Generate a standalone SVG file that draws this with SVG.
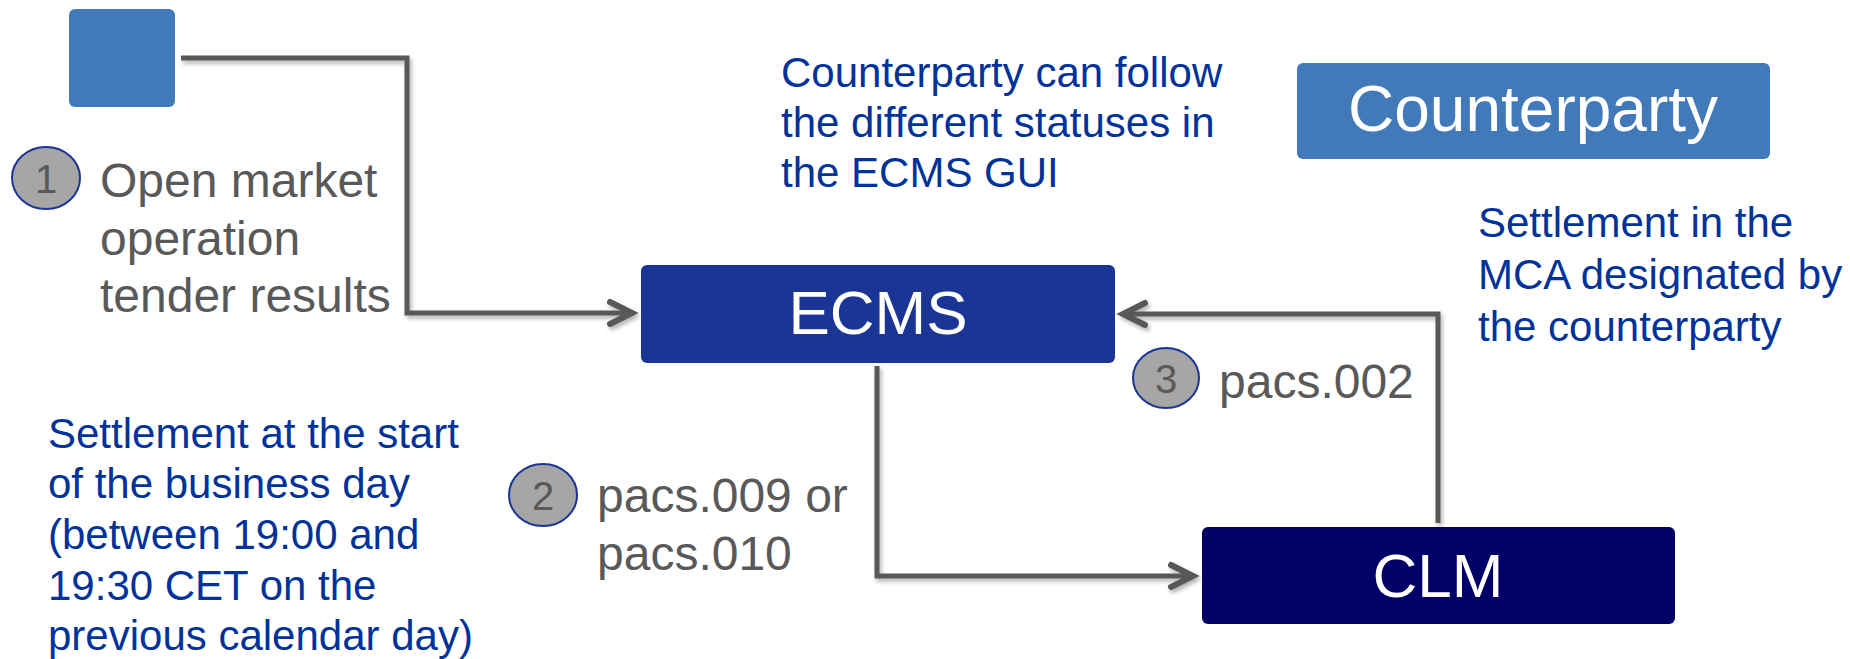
<svg xmlns="http://www.w3.org/2000/svg" width="1850" height="659" viewBox="0 0 1850 659">
<defs>
<style>
.t{font-family:"Liberation Sans",Arial,sans-serif}
.grey{fill:#595959;font-size:48px}
.blue{fill:#003399;font-size:42px}
.box{fill:#ffffff;font-size:64px;text-anchor:middle}
.num{fill:#595959;font-size:40px;text-anchor:middle}
.badge{fill:#a6a6a6;stroke:#1a3596;stroke-width:2}
.conn{fill:none;stroke:#595959;stroke-width:5;stroke-linejoin:miter}
</style>
<marker id="arr" markerUnits="userSpaceOnUse" viewBox="-30 -16 40 32" markerWidth="40" markerHeight="32" refX="0" refY="0" orient="auto">
<path d="M-22,-11 L0,0 L-22,11" fill="none" stroke="#595959" stroke-width="6" stroke-linecap="round" stroke-linejoin="miter"/>
</marker>
<filter id="sh" x="-10%" y="-10%" width="120%" height="120%">
<feDropShadow dx="2" dy="3" stdDeviation="2" flood-color="#000" flood-opacity="0.3"/>
</filter>
</defs>

<g id="connectors" filter="url(#sh)">
<path class="conn" d="M181,58 H407 V313 H632" marker-end="url(#arr)"/>
<path class="conn" d="M877,366 V576 H1193" marker-end="url(#arr)"/>
<path class="conn" d="M1438,523 V314 H1123" marker-end="url(#arr)"/>
</g>

<g id="source">
<rect x="69" y="9" width="106" height="98" rx="6" fill="#4279b9"/>
</g>

<g id="ecms">
<rect x="641" y="265" width="474" height="98" rx="6" fill="#1a3596"/>
<text class="t box" x="878" y="334" style="font-size:62px">ECMS</text>
</g>

<g id="clm">
<rect x="1202" y="527" width="473" height="97" rx="6" fill="#000066"/>
<text class="t box" x="1438" y="597" style="font-size:62px">CLM</text>
</g>

<g id="counterparty">
<rect x="1297" y="63" width="473" height="96" rx="6" fill="#4279b9"/>
<text class="t box" x="1533" y="131">Counterparty</text>
</g>

<g id="step1">
<ellipse class="badge" cx="46" cy="178" rx="34" ry="31"/>
<text class="t num" x="46" y="193">1</text>
<text class="t grey" x="100" y="197">Open market</text>
<text class="t grey" x="100" y="254.5">operation</text>
<text class="t grey" x="100" y="312">tender results</text>
</g>

<g id="step2">
<ellipse class="badge" cx="543" cy="495" rx="34" ry="31"/>
<text class="t num" x="543" y="510">2</text>
<text class="t grey" x="597" y="512">pacs.009 or</text>
<text class="t grey" x="597" y="570">pacs.010</text>
</g>

<g id="step3">
<ellipse class="badge" cx="1166" cy="378" rx="33" ry="30"/>
<text class="t num" x="1166" y="393">3</text>
<text class="t grey" x="1219" y="398">pacs.002</text>
</g>

<g id="note-gui">
<text class="t blue" x="781" y="87">Counterparty can follow</text>
<text class="t blue" x="781" y="137">the different statuses in</text>
<text class="t blue" x="781" y="187">the ECMS GUI</text>
</g>

<g id="note-mca">
<text class="t blue" x="1478" y="237">Settlement in the</text>
<text class="t blue" x="1478" y="289">MCA designated by</text>
<text class="t blue" x="1478" y="341">the counterparty</text>
</g>

<g id="note-start">
<text class="t blue" x="48" y="448">Settlement at the start</text>
<text class="t blue" x="48" y="498">of the business day</text>
<text class="t blue" x="48" y="549">(between 19:00 and</text>
<text class="t blue" x="48" y="600">19:30 CET on the</text>
<text class="t blue" x="48" y="650">previous calendar day)</text>
</g>
</svg>
